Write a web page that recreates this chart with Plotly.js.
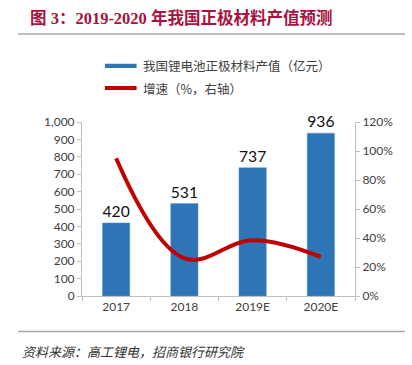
<!DOCTYPE html>
<html>
<head>
<meta charset="utf-8">
<script src="https://cdn.plot.ly/plotly-3.0.1.min.js"></script>
<style>
html,body{margin:0;padding:0;background:#fff;}
#chart{width:412px;height:365px;}
</style>
</head>
<body>
<div id="chart"></div>
<script>
const categories = ["2017", "2018", "2019E", "2020E"];
const outputValue = [420, 531, 737, 936];
const growthRate = [95, 26, 38.5, 27];
const leftTicks = [0, 100, 200, 300, 400, 500, 600, 700, 800, 900, 1000];
const rightTicks = [0, 20, 40, 60, 80, 100, 120];

const barName = "我国锂电池正极材料产值（亿元）";
const lineName = "增速（%，右轴）";

const numFont = "Lato, 'Noto Sans', 'Noto Sans CJK SC', sans-serif";
const cjkFont = "'Noto Sans CJK SC', sans-serif";

const traces = [
  {
    type: "bar",
    x: categories,
    y: outputValue,
    name: barName,
    marker: {color: "#2E75B6", line: {color: "#5B9BD5", width: 0.5}},
    text: outputValue.map(String),
    textposition: "outside",
    textfont: {family: numFont, size: 16, color: "#111"},
    cliponaxis: false,
    hoverinfo: "skip",
    showlegend: false
  },
  {
    type: "scatter",
    mode: "lines",
    x: categories,
    y: growthRate,
    yaxis: "y2",
    name: lineName,
    line: {color: "#C00000", width: 4, shape: "spline", smoothing: 1.1},
    hoverinfo: "skip",
    showlegend: false
  }
];

const layout = {
  width: 412,
  height: 365,
  margin: {l: 82, r: 57, t: 122, b: 69},
  paper_bgcolor: "#fff",
  plot_bgcolor: "#fff",
  bargap: 0.6,
  showlegend: false,
  xaxis: {
    type: "category",
    showline: true,
    linecolor: "#BFBFBF",
    linewidth: 1,
    ticks: "outside",
    tickson: "boundaries",
    ticklen: 4,
    tickcolor: "#BFBFBF",
    tickfont: {family: numFont, size: 12, color: "#404040"},
    showgrid: false,
    zeroline: false,
    fixedrange: true
  },
  yaxis: {
    range: [0, 1000],
    tickvals: leftTicks,
    tickformat: ",d",
    showline: true,
    linecolor: "#BFBFBF",
    ticks: "outside",
    ticklen: 4,
    tickcolor: "#BFBFBF",
    tickfont: {family: numFont, size: 12, color: "#404040"},
    showgrid: false,
    zeroline: false,
    fixedrange: true
  },
  yaxis2: {
    overlaying: "y",
    side: "right",
    range: [0, 120],
    tickvals: rightTicks,
    ticktext: rightTicks.map(v => v + "%"),
    showline: true,
    linecolor: "#BFBFBF",
    ticks: "outside",
    ticklen: 4,
    tickcolor: "#BFBFBF",
    tickfont: {family: numFont, size: 12, color: "#404040"},
    showgrid: false,
    zeroline: false,
    fixedrange: true
  },
  shapes: [
    {type: "line", xref: "paper", yref: "paper", x0: -0.234, x1: 1.183, y0: 1.506, y1: 1.506, line: {color: "#A6A6A6", width: 1.5}},
    {type: "line", xref: "paper", yref: "paper", x0: -0.234, x1: 1.183, y0: -0.204, y1: -0.204, line: {color: "#A6A6A6", width: 1.5}},
    {type: "rect", xref: "paper", yref: "paper", x0: 0.084, x1: 0.2, y0: 1.335, y1: 1.31, fillcolor: "#2E75B6", line: {width: 0}},
    {type: "line", xref: "paper", yref: "paper", x0: 0.084, x1: 0.2, y0: 1.195, y1: 1.195, line: {color: "#C00000", width: 4}}
  ],
  annotations: [
    {xref: "paper", yref: "paper", x: -0.198, y: 1.6, xanchor: "left", yanchor: "middle", showarrow: false,
     text: "<b>图 3：2019-2020 年我国正极材料产值预测</b>",
     font: {family: "'Liberation Serif', 'Noto Sans CJK SC', serif", size: 16.5, color: "#A8123E"}},
    {xref: "paper", yref: "paper", x: 0.215, y: 1.322, xanchor: "left", yanchor: "middle", showarrow: false,
     text: barName, font: {family: cjkFont, size: 12.5, color: "#404040"}},
    {xref: "paper", yref: "paper", x: 0.215, y: 1.195, xanchor: "left", yanchor: "middle", showarrow: false,
     text: lineName, font: {family: cjkFont, size: 12.5, color: "#404040"}},
    {xref: "paper", yref: "paper", x: -0.228, y: -0.318, xanchor: "left", yanchor: "middle", showarrow: false,
     text: "<i>资料来源：高工锂电，招商银行研究院</i>", font: {family: cjkFont, size: 13, color: "#333"}}
  ]
};

Plotly.newPlot("chart", traces, layout, {displayModeBar: false, staticPlot: true});
</script>
</body>
</html>
